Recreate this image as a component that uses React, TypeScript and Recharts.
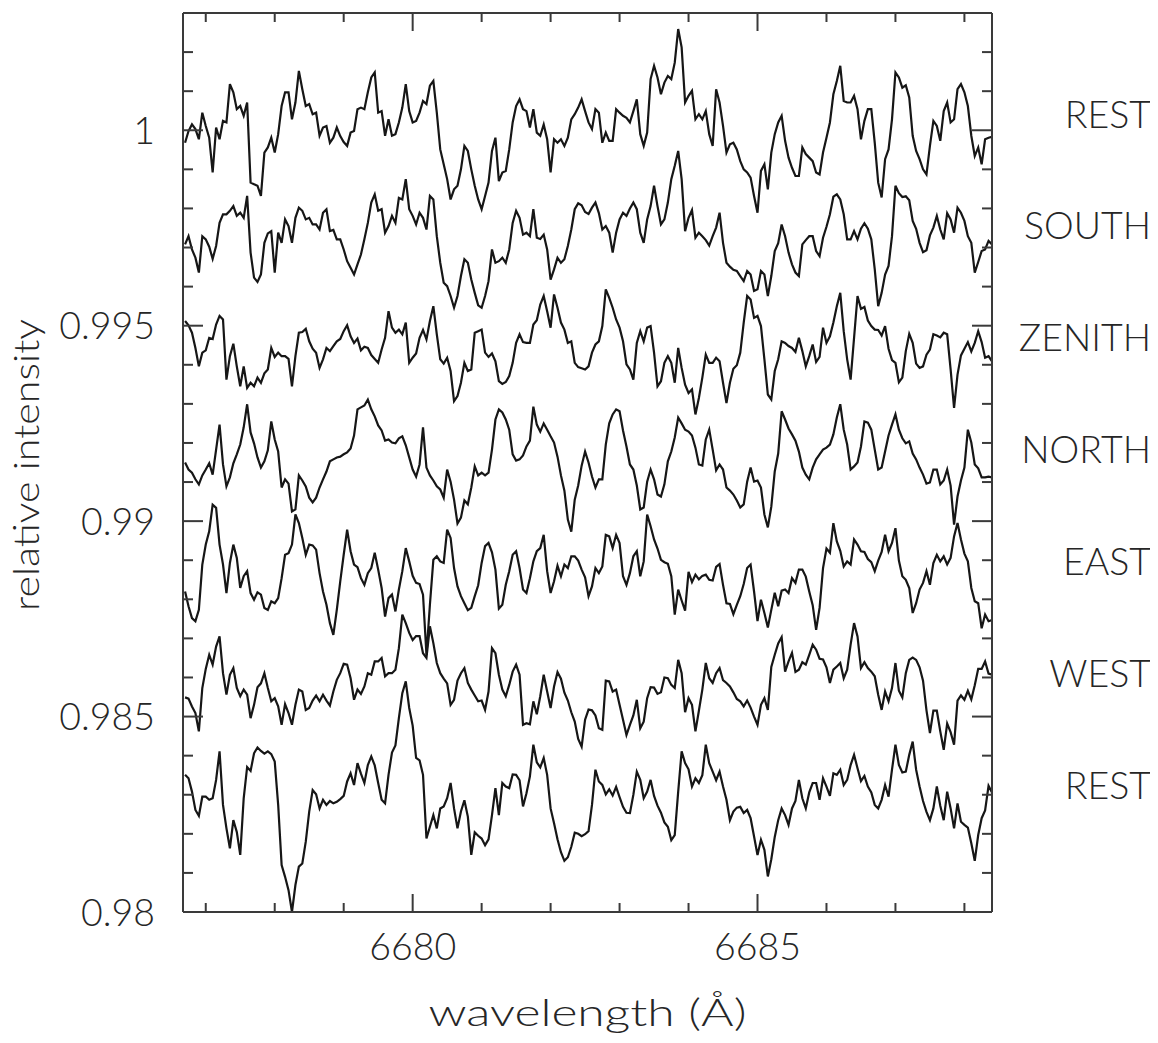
import React from 'react';
import { LineChart, Line, XAxis, YAxis, ReferenceLine } from 'recharts';

// ---- sampling grid (wavelength, Angstrom) ----
const WAVELENGTH_START = 6676.7;
const WAVELENGTH_STEP = 0.05;
const SAMPLE_COUNT = 235;
const WAVELENGTHS: number[] = Array.from({ length: SAMPLE_COUNT }, (_, i) =>
  Number((WAVELENGTH_START + i * WAVELENGTH_STEP).toFixed(2))
);

// ---- spectra (relative intensity) ----
const REST_TOP = [
  0.99968, 0.99998, 1.00015, 1.00003, 0.99977, 1.00045, 1.00011, 0.99981, 0.99892, 1.00007, 0.99977, 1.00024, 1.00020, 1.00118, 1.00097, 1.00054, 1.00062, 1.00037, 1.00071, 0.99866, 0.99862, 0.99858, 0.99832, 0.99943, 0.99956, 0.99981, 0.99943, 0.99990, 1.00062, 1.00097, 1.00097, 1.00028, 1.00071, 1.00152, 1.00105, 1.00062, 1.00067, 1.00041, 1.00045, 0.99986, 1.00007, 1.00011, 0.99968, 0.99981, 1.00007, 0.99985, 0.99970,
  0.99960, 0.99994, 0.99998, 1.00054, 1.00058, 1.00054, 1.00097, 1.00135, 1.00148, 1.00045, 1.00049, 0.99986, 1.00028, 0.99986, 0.99990, 1.00020, 1.00058, 1.00118, 1.00049, 1.00020, 1.00024, 1.00045, 1.00075, 1.00067, 1.00114, 1.00126, 1.00045, 0.99951, 0.99913, 0.99875, 0.99823, 0.99849, 0.99858, 0.99900, 0.99960, 0.99947, 0.99900, 0.99858, 0.99823, 0.99798, 0.99832, 0.99866, 0.99947, 0.99981, 0.99870, 0.99892, 0.99896,
  0.99951, 1.00020, 1.00062, 1.00079, 1.00054, 1.00049, 1.00007, 1.00054, 0.99994, 0.99986, 1.00015, 0.99977, 0.99892, 0.99977, 0.99968, 0.99977, 0.99960, 0.99981, 1.00028, 1.00041, 1.00058, 1.00079, 1.00049, 1.00020, 1.00003, 1.00054, 1.00045, 0.99968, 0.99994, 0.99973, 0.99973, 1.00054, 1.00045, 1.00037, 1.00032, 1.00020, 1.00049, 1.00079, 0.99990, 0.99960, 0.99994, 1.00131, 1.00165, 1.00135, 1.00092, 1.00122, 1.00139,
  1.00131, 1.00173, 1.00259, 1.00212, 1.00071, 1.00088, 1.00101, 1.00028, 1.00041, 1.00028, 1.00049, 0.99990, 0.99960, 1.00105, 1.00071, 1.00011, 0.99943, 0.99964, 0.99968, 0.99951, 0.99921, 0.99900, 0.99892, 0.99879, 0.99832, 0.99789, 0.99896, 0.99913, 0.99849, 0.99943, 0.99990, 1.00020, 1.00037, 0.99973, 0.99930, 0.99904, 0.99883, 0.99883, 0.99956, 0.99939, 0.99930, 0.99921, 0.99892, 0.99887, 0.99943, 0.99981, 1.00020,
  1.00092, 1.00126, 1.00165, 1.00075, 1.00071, 1.00071, 1.00088, 1.00054, 0.99977, 1.00024, 1.00054, 1.00054, 0.99968, 0.99866, 0.99828, 0.99926, 0.99951, 1.00028, 1.00148, 1.00135, 1.00109, 1.00115, 1.00084, 0.99986, 0.99947, 0.99926, 0.99900, 0.99887, 0.99960, 1.00024, 1.00011, 0.99973, 1.00049, 1.00071, 1.00020, 1.00028, 1.00105, 1.00118, 1.00097, 1.00062, 0.99986, 0.99934, 0.99956, 0.99913, 0.99977, 0.99981, 0.99983,
];

const SOUTH = [
  0.99708, 0.99729, 0.99695, 0.99674, 0.99636, 0.99729, 0.99721, 0.99702, 0.99671, 0.99704, 0.99763, 0.99785, 0.99785, 0.99794, 0.99806, 0.99781, 0.99789, 0.99776, 0.99832, 0.99687, 0.99623, 0.99612, 0.99631, 0.99712, 0.99736, 0.99742, 0.99636, 0.99738, 0.99712, 0.99772, 0.99755, 0.99712, 0.99776, 0.99802, 0.99794, 0.99772, 0.99776, 0.99759, 0.99759, 0.99746, 0.99789, 0.99798, 0.99742, 0.99745, 0.99721, 0.99721, 0.99695,
  0.99665, 0.99648, 0.99631, 0.99657, 0.99682, 0.99721, 0.99763, 0.99815, 0.99836, 0.99794, 0.99798, 0.99738, 0.99755, 0.99781, 0.99763, 0.99827, 0.99823, 0.99875, 0.99798, 0.99781, 0.99759, 0.99789, 0.99776, 0.99746, 0.99832, 0.99823, 0.99729, 0.99661, 0.99610, 0.99601, 0.99576, 0.99546, 0.99576, 0.99627, 0.99670, 0.99661, 0.99618, 0.99584, 0.99552, 0.99546, 0.99576, 0.99614, 0.99695, 0.99661, 0.99665, 0.99674, 0.99661,
  0.99695, 0.99763, 0.99794, 0.99776, 0.99733, 0.99738, 0.99729, 0.99798, 0.99725, 0.99722, 0.99733, 0.99695, 0.99618, 0.99644, 0.99674, 0.99661, 0.99670, 0.99704, 0.99746, 0.99798, 0.99813, 0.99808, 0.99791, 0.99786, 0.99802, 0.99815, 0.99788, 0.99746, 0.99755, 0.99738, 0.99687, 0.99738, 0.99772, 0.99789, 0.99781, 0.99800, 0.99815, 0.99798, 0.99738, 0.99712, 0.99772, 0.99806, 0.99858, 0.99806, 0.99759, 0.99772, 0.99815,
  0.99875, 0.99909, 0.99947, 0.99875, 0.99742, 0.99776, 0.99796, 0.99725, 0.99738, 0.99729, 0.99719, 0.99705, 0.99729, 0.99751, 0.99789, 0.99712, 0.99661, 0.99651, 0.99643, 0.99640, 0.99627, 0.99614, 0.99640, 0.99631, 0.99589, 0.99593, 0.99640, 0.99631, 0.99576, 0.99627, 0.99691, 0.99711, 0.99759, 0.99729, 0.99687, 0.99657, 0.99636, 0.99627, 0.99708, 0.99719, 0.99729, 0.99729, 0.99691, 0.99678, 0.99725, 0.99753, 0.99785,
  0.99830, 0.99836, 0.99823, 0.99785, 0.99721, 0.99721, 0.99742, 0.99721, 0.99748, 0.99762, 0.99748, 0.99721, 0.99644, 0.99550, 0.99584, 0.99631, 0.99653, 0.99729, 0.99858, 0.99839, 0.99829, 0.99831, 0.99821, 0.99768, 0.99748, 0.99712, 0.99688, 0.99693, 0.99731, 0.99751, 0.99781, 0.99746, 0.99721, 0.99788, 0.99772, 0.99738, 0.99802, 0.99789, 0.99768, 0.99729, 0.99712, 0.99636, 0.99663, 0.99691, 0.99695, 0.99717, 0.99708,
];

const ZENITH = [
  0.99512, 0.99501, 0.99482, 0.99443, 0.99396, 0.99431, 0.99437, 0.99469, 0.99466, 0.99503, 0.99525, 0.99516, 0.99362, 0.99422, 0.99454, 0.99396, 0.99345, 0.99396, 0.99341, 0.99354, 0.99345, 0.99367, 0.99354, 0.99378, 0.99388, 0.99443, 0.99420, 0.99431, 0.99422, 0.99422, 0.99415, 0.99345, 0.99422, 0.99482, 0.99484, 0.99492, 0.99460, 0.99441, 0.99431, 0.99392, 0.99414, 0.99443, 0.99435, 0.99448, 0.99460, 0.99466, 0.99486,
  0.99501, 0.99473, 0.99456, 0.99467, 0.99437, 0.99446, 0.99443, 0.99425, 0.99415, 0.99405, 0.99439, 0.99469, 0.99537, 0.99495, 0.99482, 0.99490, 0.99478, 0.99508, 0.99405, 0.99418, 0.99429, 0.99469, 0.99489, 0.99465, 0.99512, 0.99550, 0.99478, 0.99414, 0.99403, 0.99418, 0.99384, 0.99307, 0.99320, 0.99354, 0.99405, 0.99384, 0.99388, 0.99482, 0.99486, 0.99490, 0.99431, 0.99420, 0.99429, 0.99409, 0.99358, 0.99351, 0.99356,
  0.99371, 0.99405, 0.99456, 0.99478, 0.99458, 0.99456, 0.99456, 0.99503, 0.99514, 0.99554, 0.99576, 0.99537, 0.99495, 0.99580, 0.99546, 0.99508, 0.99490, 0.99456, 0.99460, 0.99405, 0.99394, 0.99391, 0.99388, 0.99396, 0.99431, 0.99452, 0.99460, 0.99499, 0.99593, 0.99571, 0.99546, 0.99516, 0.99495, 0.99460, 0.99401, 0.99388, 0.99362, 0.99456, 0.99486, 0.99460, 0.99495, 0.99499, 0.99431, 0.99345, 0.99358, 0.99405, 0.99422,
  0.99405, 0.99354, 0.99443, 0.99392, 0.99349, 0.99328, 0.99337, 0.99273, 0.99315, 0.99367, 0.99426, 0.99405, 0.99405, 0.99418, 0.99409, 0.99354, 0.99302, 0.99354, 0.99390, 0.99399, 0.99431, 0.99508, 0.99576, 0.99567, 0.99520, 0.99525, 0.99499, 0.99414, 0.99324, 0.99311, 0.99384, 0.99414, 0.99460, 0.99456, 0.99448, 0.99443, 0.99433, 0.99469, 0.99435, 0.99396, 0.99422, 0.99452, 0.99407, 0.99420, 0.99495, 0.99456, 0.99473,
  0.99508, 0.99550, 0.99584, 0.99486, 0.99414, 0.99362, 0.99469, 0.99576, 0.99543, 0.99548, 0.99513, 0.99499, 0.99490, 0.99489, 0.99475, 0.99499, 0.99441, 0.99412, 0.99405, 0.99355, 0.99367, 0.99435, 0.99479, 0.99456, 0.99403, 0.99392, 0.99396, 0.99426, 0.99439, 0.99478, 0.99475, 0.99470, 0.99482, 0.99478, 0.99388, 0.99290, 0.99375, 0.99424, 0.99441, 0.99458, 0.99434, 0.99456, 0.99486, 0.99458, 0.99418, 0.99422, 0.99409,
];

const NORTH = [
  0.99150, 0.99132, 0.99124, 0.99107, 0.99094, 0.99117, 0.99132, 0.99148, 0.99119, 0.99183, 0.99247, 0.99145, 0.99089, 0.99112, 0.99148, 0.99171, 0.99196, 0.99240, 0.99299, 0.99227, 0.99199, 0.99163, 0.99137, 0.99153, 0.99181, 0.99255, 0.99209, 0.99178, 0.99086, 0.99107, 0.99096, 0.99025, 0.99030, 0.99117, 0.99104, 0.99089, 0.99060, 0.99048, 0.99060, 0.99086, 0.99107, 0.99127, 0.99153, 0.99158, 0.99163, 0.99165, 0.99171,
  0.99176, 0.99186, 0.99219, 0.99286, 0.99291, 0.99296, 0.99311, 0.99286, 0.99268, 0.99245, 0.99232, 0.99206, 0.99209, 0.99201, 0.99199, 0.99212, 0.99217, 0.99194, 0.99163, 0.99132, 0.99114, 0.99145, 0.99240, 0.99137, 0.99117, 0.99104, 0.99089, 0.99081, 0.99060, 0.99132, 0.99101, 0.99055, 0.98994, 0.99009, 0.99053, 0.99043, 0.99086, 0.99140, 0.99117, 0.99124, 0.99117, 0.99124, 0.99183, 0.99260, 0.99286, 0.99278, 0.99260,
  0.99234, 0.99171, 0.99155, 0.99158, 0.99168, 0.99191, 0.99206, 0.99293, 0.99247, 0.99229, 0.99250, 0.99234, 0.99217, 0.99201, 0.99165, 0.99117, 0.99078, 0.99004, 0.98973, 0.99055, 0.99091, 0.99142, 0.99178, 0.99150, 0.99114, 0.99086, 0.99107, 0.99107, 0.99196, 0.99250, 0.99273, 0.99286, 0.99281, 0.99232, 0.99191, 0.99145, 0.99132, 0.99091, 0.99030, 0.99035, 0.99101, 0.99132, 0.99107, 0.99068, 0.99063, 0.99094, 0.99153,
  0.99178, 0.99214, 0.99265, 0.99250, 0.99234, 0.99229, 0.99219, 0.99188, 0.99145, 0.99142, 0.99209, 0.99234, 0.99183, 0.99130, 0.99145, 0.99132, 0.99086, 0.99078, 0.99068, 0.99053, 0.99035, 0.99043, 0.99101, 0.99137, 0.99101, 0.99104, 0.99086, 0.99017, 0.98984, 0.99037, 0.99127, 0.99173, 0.99281, 0.99260, 0.99237, 0.99222, 0.99206, 0.99178, 0.99137, 0.99119, 0.99107, 0.99137, 0.99158, 0.99171, 0.99183, 0.99188, 0.99196,
  0.99222, 0.99265, 0.99299, 0.99234, 0.99196, 0.99132, 0.99140, 0.99150, 0.99191, 0.99255, 0.99252, 0.99234, 0.99183, 0.99132, 0.99137, 0.99178, 0.99219, 0.99247, 0.99273, 0.99234, 0.99212, 0.99199, 0.99204, 0.99173, 0.99158, 0.99137, 0.99119, 0.99096, 0.99099, 0.99132, 0.99132, 0.99094, 0.99104, 0.99132, 0.99091, 0.98991, 0.99063, 0.99104, 0.99137, 0.99234, 0.99201, 0.99145, 0.99135, 0.99112, 0.99112, 0.99114, 0.99112,
];

const EAST = [
  0.98820, 0.98782, 0.98752, 0.98744, 0.98773, 0.98889, 0.98940, 0.98974, 0.99042, 0.99034, 0.98940, 0.98889, 0.98816, 0.98893, 0.98940, 0.98906, 0.98829, 0.98859, 0.98872, 0.98816, 0.98799, 0.98818, 0.98812, 0.98778, 0.98773, 0.98795, 0.98790, 0.98803, 0.98854, 0.98914, 0.98918, 0.98940, 0.99017, 0.98995, 0.98957, 0.98914, 0.98940, 0.98938, 0.98927, 0.98867, 0.98820, 0.98786, 0.98739, 0.98709, 0.98773, 0.98846, 0.98914,
  0.98978, 0.98923, 0.98889, 0.98882, 0.98854, 0.98837, 0.98867, 0.98880, 0.98919, 0.98876, 0.98829, 0.98756, 0.98803, 0.98812, 0.98769, 0.98825, 0.98872, 0.98931, 0.98897, 0.98860, 0.98842, 0.98839, 0.98812, 0.98658, 0.98786, 0.98901, 0.98910, 0.98897, 0.98893, 0.98978, 0.98957, 0.98880, 0.98833, 0.98808, 0.98790, 0.98772, 0.98778, 0.98808, 0.98836, 0.98893, 0.98936, 0.98944, 0.98920, 0.98876, 0.98776, 0.98786, 0.98837,
  0.98872, 0.98914, 0.98923, 0.98880, 0.98825, 0.98816, 0.98854, 0.98897, 0.98923, 0.98931, 0.98965, 0.98872, 0.98816, 0.98846, 0.98886, 0.98859, 0.98889, 0.98880, 0.98910, 0.98910, 0.98899, 0.98876, 0.98856, 0.98808, 0.98833, 0.98880, 0.98867, 0.98884, 0.98965, 0.98961, 0.98931, 0.98965, 0.98944, 0.98859, 0.98837, 0.98867, 0.98910, 0.98923, 0.98859, 0.98897, 0.99017, 0.98987, 0.98953, 0.98930, 0.98901, 0.98895, 0.98891,
  0.98859, 0.98761, 0.98825, 0.98797, 0.98771, 0.98870, 0.98844, 0.98863, 0.98851, 0.98860, 0.98863, 0.98850, 0.98848, 0.98883, 0.98890, 0.98837, 0.98790, 0.98788, 0.98762, 0.98786, 0.98808, 0.98839, 0.98880, 0.98889, 0.98820, 0.98744, 0.98799, 0.98765, 0.98728, 0.98773, 0.98817, 0.98782, 0.98822, 0.98825, 0.98816, 0.98854, 0.98842, 0.98876, 0.98876, 0.98858, 0.98820, 0.98785, 0.98722, 0.98778, 0.98880, 0.98930, 0.98919,
  0.98995, 0.98948, 0.98924, 0.98884, 0.98897, 0.98889, 0.98953, 0.98940, 0.98923, 0.98921, 0.98903, 0.98895, 0.98872, 0.98899, 0.98921, 0.98965, 0.98923, 0.98944, 0.98982, 0.98899, 0.98859, 0.98850, 0.98829, 0.98765, 0.98790, 0.98825, 0.98842, 0.98872, 0.98837, 0.98893, 0.98914, 0.98897, 0.98910, 0.98889, 0.98906, 0.98961, 0.98995, 0.98953, 0.98917, 0.98897, 0.98829, 0.98795, 0.98790, 0.98726, 0.98761, 0.98744, 0.98747,
];

const WEST = [
  0.98549, 0.98546, 0.98526, 0.98509, 0.98462, 0.98573, 0.98622, 0.98658, 0.98633, 0.98679, 0.98705, 0.98611, 0.98556, 0.98607, 0.98624, 0.98573, 0.98552, 0.98569, 0.98556, 0.98496, 0.98530, 0.98575, 0.98585, 0.98611, 0.98573, 0.98539, 0.98547, 0.98526, 0.98479, 0.98532, 0.98509, 0.98479, 0.98530, 0.98569, 0.98564, 0.98517, 0.98522, 0.98541, 0.98554, 0.98539, 0.98556, 0.98541, 0.98528, 0.98564, 0.98594, 0.98611, 0.98635,
  0.98633, 0.98598, 0.98543, 0.98569, 0.98558, 0.98577, 0.98611, 0.98607, 0.98641, 0.98641, 0.98650, 0.98603, 0.98611, 0.98611, 0.98620, 0.98675, 0.98761, 0.98739, 0.98714, 0.98696, 0.98706, 0.98706, 0.98662, 0.98650, 0.98731, 0.98688, 0.98637, 0.98611, 0.98597, 0.98585, 0.98530, 0.98543, 0.98592, 0.98611, 0.98624, 0.98586, 0.98569, 0.98554, 0.98539, 0.98541, 0.98517, 0.98564, 0.98675, 0.98662, 0.98607, 0.98569, 0.98552,
  0.98581, 0.98615, 0.98633, 0.98607, 0.98479, 0.98483, 0.98480, 0.98539, 0.98506, 0.98552, 0.98607, 0.98564, 0.98522, 0.98577, 0.98614, 0.98597, 0.98561, 0.98541, 0.98511, 0.98487, 0.98443, 0.98423, 0.98492, 0.98518, 0.98516, 0.98503, 0.98470, 0.98466, 0.98592, 0.98590, 0.98564, 0.98569, 0.98530, 0.98492, 0.98453, 0.98479, 0.98503, 0.98543, 0.98470, 0.98487, 0.98547, 0.98575, 0.98574, 0.98558, 0.98562, 0.98600, 0.98598,
  0.98581, 0.98573, 0.98645, 0.98611, 0.98511, 0.98547, 0.98530, 0.98462, 0.98515, 0.98569, 0.98637, 0.98598, 0.98586, 0.98611, 0.98624, 0.98593, 0.98586, 0.98577, 0.98562, 0.98545, 0.98539, 0.98526, 0.98541, 0.98523, 0.98500, 0.98479, 0.98530, 0.98547, 0.98517, 0.98627, 0.98658, 0.98687, 0.98703, 0.98615, 0.98641, 0.98663, 0.98614, 0.98620, 0.98639, 0.98633, 0.98658, 0.98684, 0.98671, 0.98648, 0.98646, 0.98626, 0.98586,
  0.98620, 0.98628, 0.98637, 0.98598, 0.98620, 0.98684, 0.98739, 0.98705, 0.98624, 0.98639, 0.98624, 0.98615, 0.98603, 0.98556, 0.98517, 0.98564, 0.98539, 0.98573, 0.98637, 0.98566, 0.98549, 0.98611, 0.98645, 0.98651, 0.98645, 0.98626, 0.98592, 0.98516, 0.98458, 0.98515, 0.98515, 0.98462, 0.98415, 0.98482, 0.98460, 0.98428, 0.98541, 0.98554, 0.98543, 0.98566, 0.98544, 0.98580, 0.98622, 0.98622, 0.98641, 0.98610, 0.98607,
];

const REST_BOTTOM = [
  0.98351, 0.98342, 0.98308, 0.98261, 0.98246, 0.98295, 0.98295, 0.98287, 0.98291, 0.98338, 0.98411, 0.98274, 0.98214, 0.98163, 0.98235, 0.98205, 0.98146, 0.98291, 0.98371, 0.98361, 0.98406, 0.98421, 0.98412, 0.98405, 0.98411, 0.98404, 0.98385, 0.98274, 0.98120, 0.98090, 0.98056, 0.98000, 0.98069, 0.98116, 0.98124, 0.98180, 0.98257, 0.98312, 0.98301, 0.98265, 0.98287, 0.98274, 0.98284, 0.98278, 0.98282, 0.98289, 0.98297,
  0.98334, 0.98355, 0.98325, 0.98381, 0.98354, 0.98330, 0.98376, 0.98398, 0.98375, 0.98330, 0.98287, 0.98278, 0.98351, 0.98408, 0.98426, 0.98496, 0.98560, 0.98590, 0.98522, 0.98477, 0.98394, 0.98388, 0.98351, 0.98188, 0.98218, 0.98248, 0.98214, 0.98265, 0.98270, 0.98291, 0.98330, 0.98265, 0.98214, 0.98257, 0.98286, 0.98244, 0.98146, 0.98204, 0.98195, 0.98188, 0.98171, 0.98186, 0.98248, 0.98317, 0.98248, 0.98330, 0.98321,
  0.98317, 0.98352, 0.98351, 0.98337, 0.98270, 0.98304, 0.98347, 0.98428, 0.98383, 0.98370, 0.98394, 0.98351, 0.98265, 0.98227, 0.98186, 0.98153, 0.98131, 0.98140, 0.98167, 0.98203, 0.98200, 0.98194, 0.98199, 0.98207, 0.98274, 0.98364, 0.98334, 0.98325, 0.98301, 0.98314, 0.98298, 0.98320, 0.98294, 0.98269, 0.98254, 0.98253, 0.98300, 0.98359, 0.98338, 0.98291, 0.98308, 0.98338, 0.98297, 0.98272, 0.98254, 0.98229, 0.98218,
  0.98184, 0.98197, 0.98308, 0.98411, 0.98381, 0.98365, 0.98321, 0.98342, 0.98330, 0.98350, 0.98428, 0.98381, 0.98359, 0.98337, 0.98359, 0.98321, 0.98287, 0.98235, 0.98257, 0.98267, 0.98269, 0.98253, 0.98261, 0.98240, 0.98193, 0.98146, 0.98185, 0.98159, 0.98091, 0.98135, 0.98192, 0.98235, 0.98265, 0.98248, 0.98223, 0.98265, 0.98284, 0.98338, 0.98291, 0.98265, 0.98306, 0.98330, 0.98330, 0.98287, 0.98342, 0.98321, 0.98297,
  0.98355, 0.98351, 0.98364, 0.98325, 0.98338, 0.98376, 0.98402, 0.98368, 0.98335, 0.98348, 0.98321, 0.98306, 0.98274, 0.98265, 0.98287, 0.98325, 0.98295, 0.98364, 0.98428, 0.98376, 0.98357, 0.98359, 0.98402, 0.98436, 0.98364, 0.98321, 0.98284, 0.98256, 0.98235, 0.98265, 0.98321, 0.98272, 0.98235, 0.98308, 0.98265, 0.98214, 0.98278, 0.98231, 0.98223, 0.98216, 0.98176, 0.98131, 0.98197, 0.98240, 0.98260, 0.98323, 0.98306,
];

// ---- labels ----
const SERIES_KEYS = ['restTop', 'south', 'zenith', 'north', 'east', 'west', 'restBottom'];
const SERIES_NAMES = ['REST', 'SOUTH', 'ZENITH', 'NORTH', 'EAST', 'WEST', 'REST'];
const SERIES_VALUES = [REST_TOP, SOUTH, ZENITH, NORTH, EAST, WEST, REST_BOTTOM];
const NAME_LEVELS = [1.00038, 0.99754, 0.99467, 0.99181, 0.98894, 0.98607, 0.9832];

const X_DOMAIN: [number, number] = [6676.67, 6688.4];
const Y_DOMAIN: [number, number] = [0.98, 1.003];
const X_TICKS = [6677, 6678, 6679, 6680, 6681, 6682, 6683, 6684, 6685, 6686, 6687, 6688];
const Y_TICKS = [0.98, 0.981, 0.982, 0.983, 0.984, 0.985, 0.986, 0.987, 0.988, 0.989, 0.99, 0.991, 0.992,
  0.993, 0.994, 0.995, 0.996, 0.997, 0.998, 0.999, 1, 1.001, 1.002, 1.003];

const TABLE = WAVELENGTHS.map((w, i) => {
  const row: Record<string, number> = { w };
  SERIES_KEYS.forEach((k, s) => { row[k] = SERIES_VALUES[s][i]; });
  return row;
});

// ---- layout (svg starts at the page's left edge) ----
const W = 1158;
const H = 1035;
const LEFT_W = 183;
const RIGHT_W = 166;
const TOP_H = 5;
const BOTTOM_H = 131;
const PLOT_LEFT = LEFT_W;
const PLOT_RIGHT = W - RIGHT_W;
const PLOT_TOP = TOP_H;
const PLOT_BOTTOM = H - BOTTOM_H;

const INK = '#161616';
const FRAME = '#3a3a3a';
const FONT = 'Lato, "Open Sans", sans-serif';
const TXT: React.CSSProperties = { fontFamily: FONT, fontWeight: 300, fontSize: 37.5, fill: '#262626' };
const TITLE: React.CSSProperties = { fontFamily: FONT, fontWeight: 300, fontSize: 36, fill: '#262626' };

const isMajorY = (v: number) => Math.round(v * 1000) % 5 === 0;
const isMajorX = (v: number) => Math.round(v) % 5 === 0;
const fmtY = (v: number) => String(Number(v.toFixed(3)));

const LeftTick = (p: any) => {
  const v = p.payload.value;
  const major = isMajorY(v);
  return (
    <g>
      <line x1={PLOT_LEFT} x2={PLOT_LEFT + (major ? 20 : 10)} y1={p.y} y2={p.y} stroke={FRAME} strokeWidth={2} />
      {major ? (
        <text x={PLOT_LEFT - 28} y={p.y + 13.5} textAnchor="end" style={TXT}>{fmtY(v)}</text>
      ) : null}
    </g>
  );
};

const RightTick = (p: any) => {
  const major = isMajorY(p.payload.value);
  return <line x1={PLOT_RIGHT} x2={PLOT_RIGHT - (major ? 20 : 10)} y1={p.y} y2={p.y} stroke={FRAME} strokeWidth={2} />;
};

const BottomTick = (p: any) => {
  const v = p.payload.value;
  const major = isMajorX(v);
  return (
    <g>
      <line x1={p.x} x2={p.x} y1={PLOT_BOTTOM} y2={PLOT_BOTTOM - (major ? 18 : 9)} stroke={FRAME} strokeWidth={2} />
      {major ? (
        <text x={p.x} y={PLOT_BOTTOM + 48} textAnchor="middle" style={TXT}>{String(v)}</text>
      ) : null}
    </g>
  );
};

const TopTick = (p: any) => {
  const major = isMajorX(p.payload.value);
  return <line x1={p.x} x2={p.x} y1={PLOT_TOP} y2={PLOT_TOP + (major ? 18 : 9)} stroke={FRAME} strokeWidth={2} />;
};

const NameLabel = (text: string) => (p: any) => {
  const vb = p.viewBox || {};
  const y = vb.y ?? 0;
  const xr = (vb.x ?? PLOT_LEFT) + (vb.width ?? PLOT_RIGHT - PLOT_LEFT) + 159;
  return (
    <text x={xr} y={y + 12.5} textAnchor="end" style={TXT}>{text}</text>
  );
};

const XTitle = () => (
  <text
    x={(PLOT_LEFT + PLOT_RIGHT) / 2}
    y={H - 17}
    textAnchor="middle"
    textLength={318}
    lengthAdjust="spacingAndGlyphs"
    style={{ ...TITLE, fontSize: 38 }}
  >
    wavelength (Å)
  </text>
);

const YTitle = () => {
  const cx = 39;
  const cy = 457;
  return (
    <g transform={`translate(${cx}, ${cy}) rotate(-90)`}>
      <text
        x={0}
        y={0}
        textAnchor="middle"
        textLength={292}
        lengthAdjust="spacingAndGlyphs"
        style={TITLE}
      >
        relative intensity
      </text>
    </g>
  );
};

export default function App() {
  return (
    <div style={{ width: W, height: H, marginLeft: -8, background: '#fff' }}>
      <LineChart width={W} height={H} data={TABLE} margin={{ top: 0, right: 0, bottom: 0, left: 0 }}>
        <XAxis
          dataKey="w"
          type="number"
          domain={X_DOMAIN}
          allowDataOverflow
          ticks={X_TICKS}
          interval={0}
          height={BOTTOM_H}
          tickLine={false}
          axisLine={{ stroke: FRAME, strokeWidth: 2 }}
          tick={BottomTick}
          label={{ content: XTitle }}
        />
        <XAxis
          xAxisId="top"
          orientation="top"
          dataKey="w"
          type="number"
          domain={X_DOMAIN}
          allowDataOverflow
          ticks={X_TICKS}
          interval={0}
          height={TOP_H}
          tickLine={false}
          axisLine={{ stroke: FRAME, strokeWidth: 2 }}
          tick={TopTick}
        />
        <YAxis
          type="number"
          domain={Y_DOMAIN}
          allowDataOverflow
          ticks={Y_TICKS}
          interval={0}
          width={LEFT_W}
          tickLine={false}
          axisLine={{ stroke: FRAME, strokeWidth: 2 }}
          tick={LeftTick}
          label={{ content: YTitle }}
        />
        <YAxis
          yAxisId="right"
          orientation="right"
          type="number"
          domain={Y_DOMAIN}
          allowDataOverflow
          ticks={Y_TICKS}
          interval={0}
          width={RIGHT_W}
          tickLine={false}
          axisLine={{ stroke: FRAME, strokeWidth: 2 }}
          tick={RightTick}
        />
        {SERIES_KEYS.map((k) => (
          <Line
            key={k}
            dataKey={k}
            type="linear"
            stroke={INK}
            strokeWidth={2.2}
            dot={false}
            activeDot={false}
            isAnimationActive={false}
          />
        ))}
        {NAME_LEVELS.map((lv, i) => (
          <ReferenceLine key={'n' + i} y={lv} stroke="none" ifOverflow="visible" label={NameLabel(SERIES_NAMES[i])} />
        ))}
      </LineChart>
    </div>
  );
}
